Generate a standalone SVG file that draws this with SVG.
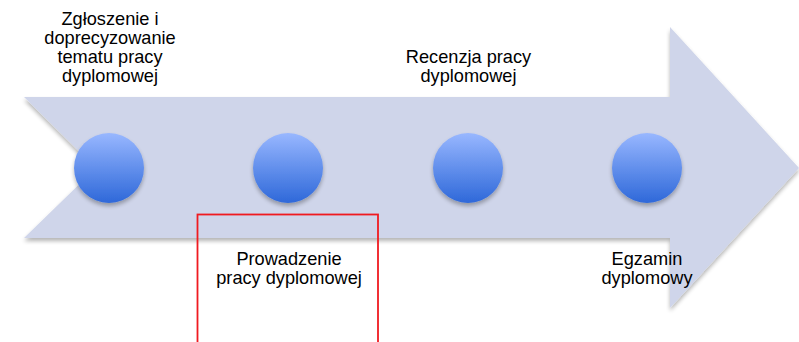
<svg xmlns="http://www.w3.org/2000/svg" width="799" height="342" viewBox="0 0 799 342">
<style>
.lbl{font-family:"Liberation Sans",Arial,sans-serif;font-size:18.2px;fill:#000;text-anchor:middle}
.dot{fill:url(#g)}
</style>
<defs>
<linearGradient id="g" x1="0" y1="0" x2="0" y2="1">
<stop offset="0" stop-color="#98B7FF"/>
<stop offset="1" stop-color="#2E68D9"/>
</linearGradient>
<filter id="sh" x="-10%" y="-10%" width="120%" height="130%">
<feGaussianBlur in="SourceAlpha" stdDeviation="2"/>
<feOffset dx="0" dy="3" result="b"/>
<feComponentTransfer><feFuncA type="linear" slope="0.3"/></feComponentTransfer>
<feMerge><feMergeNode/><feMergeNode in="SourceGraphic"/></feMerge>
</filter>
</defs>
<g id="arrow">
<path d="M24,97 H670 V27 L799,168 L670,308 V238 H24 L96,168 Z" fill="#CFD5EA" filter="url(#sh)"/>
</g>
<g id="node1">
<circle class="dot" cx="109" cy="168" r="35" filter="url(#sh)"/>
<text class="lbl" x="110" y="25">Zgłoszenie i</text>
<text class="lbl" x="110" y="44">doprecyzowanie</text>
<text class="lbl" x="110" y="63">tematu pracy</text>
<text class="lbl" x="110" y="82">dyplomowej</text>
</g>
<g id="node2">
<circle class="dot" cx="288" cy="168" r="35" filter="url(#sh)"/>
<text class="lbl" x="289" y="265">Prowadzenie</text>
<text class="lbl" x="289" y="284">pracy dyplomowej</text>
</g>
<g id="node3">
<circle class="dot" cx="468" cy="168" r="35" filter="url(#sh)"/>
<text class="lbl" x="468.5" y="63">Recenzja pracy</text>
<text class="lbl" x="468.5" y="82">dyplomowej</text>
</g>
<g id="node4">
<circle class="dot" cx="647" cy="168" r="35" filter="url(#sh)"/>
<text class="lbl" x="647" y="265">Egzamin</text>
<text class="lbl" x="647" y="284">dyplomowy</text>
</g>
<g id="connectors"/>
<g id="highlight">
<rect x="197.5" y="214.5" width="180.5" height="130" fill="none" stroke="#F01A20" stroke-width="1.8"/>
</g>
</svg>
